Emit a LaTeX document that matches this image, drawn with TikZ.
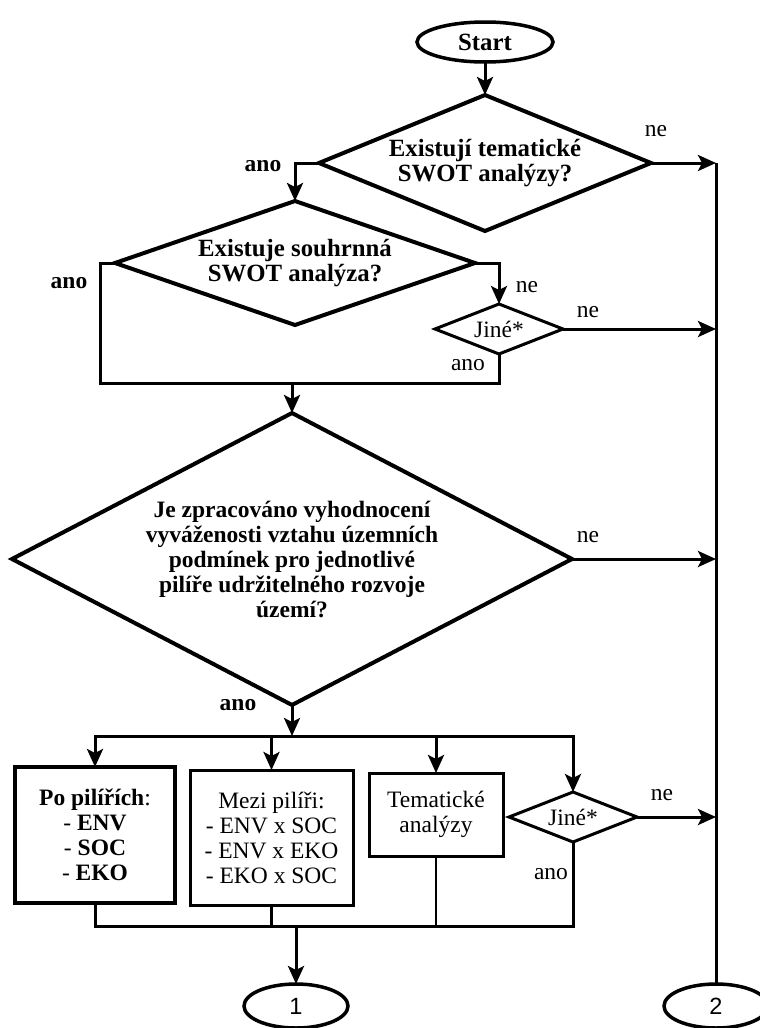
\documentclass[tikz,border=0pt]{standalone}
\usepackage{fontspec}
\setmainfont{Liberation Serif}
\newfontfamily\sansf{Liberation Sans}
\usetikzlibrary{shapes.geometric,arrows.meta}
\newcommand\dfont{\fontsize{23.5}{25}\selectfont}
\newcommand\qfont{\fontsize{24.8}{24.5}\selectfont}

\begin{document}
\begin{tikzpicture}[x=1pt,y=-1pt,
  every node/.style={font=\dfont, inner sep=0pt, outer sep=0pt},
  bold/.style={font=\dfont\bfseries},
  decision/.style={diamond, draw, line width=4pt, align=center, font=\qfont\bfseries},
  smalldec/.style={diamond, draw, line width=3pt, align=center,
    minimum width=128pt, minimum height=50pt, aspect=2.56},
  terminal/.style={ellipse, draw, line width=3.5pt},
  box/.style={rectangle, draw, line width=3pt, align=center},
  conn/.style={line width=3pt},
  stub/.style={line width=2.5pt},
  arr/.style={conn, -{Stealth[length=18pt,width=16pt,inset=4pt]}},
  ]
\useasboundingbox (0,0) rectangle (760,1028);

% start and questions
\node[terminal, minimum width=136pt, minimum height=40pt, font=\qfont\bfseries]
  (start) at (485,42) {Start};
\node[decision, minimum width=332pt, minimum height=136pt, aspect=2.44]
  (d1) at (485,163) {Existují tematické\\SWOT analýzy?};
\node[decision, minimum width=360pt, minimum height=124pt, aspect=2.9]
  (d2) at (295,263) {Existuje souhrnná\\SWOT analýza?};
\node[smalldec] (j1) at (499,329) {Jiné*};
\node[decision, minimum width=560pt, minimum height=292pt, aspect=1.92, font=\dfont\bfseries]
  (d3) at (292,559) {Je zpracováno vyhodnocení\\vyváženosti vztahu územních\\podmínek pro jednotlivé\\pilíře udržitelného rozvoje\\území?};

% kinds of evaluation
\node[box, line width=4pt, minimum width=160pt, minimum height=136pt]
  (b1) at (95,835) {\textbf{Po pilířích}:\\- \textbf{ENV}\\- \textbf{SOC}\\- \textbf{EKO}};
\node[box, minimum width=163pt, minimum height=135pt]
  (b2) at (271.5,837.5) {Mezi pilíři:\\- ENV x SOC\\- ENV x EKO\\- EKO x SOC};
\node[box, minimum width=134pt, minimum height=83pt]
  (b3) at (436,814.5) {Tematické\\analýzy};
\node[smalldec] (j2) at (573,817) {Jiné*};

% connectors to other pages
\node[terminal, minimum width=104pt, minimum height=44pt, font=\dfont\sansf]
  (e1) at (296,1006) {1};
\node[terminal, minimum width=104pt, minimum height=44pt, font=\dfont\sansf]
  (e2) at (716,1006) {2};

% helper points
\coordinate (loopL) at (100,383);
\coordinate (busT) at (95,736);
\coordinate (busB) at (95,926);

% flow
\draw[arr] (start.south) -- (d1.north);
\draw[arr] (d1.west) -| (d2.north);
\draw[arr] (d1.east) -- (d1.east -| e2.north);
\draw[conn] (d1.east -| e2.north) -- (e2.north);
\draw[arr] (d2.east) -| (j1.north);
\draw[arr] (j1.east) -- (j1.east -| e2.north);
\draw[conn] (d2.west) -| (loopL) -| (j1.south);
\draw[arr] (loopL -| d3.north) -- (d3.north);
\draw[arr] (d3.east) -- (d3.east -| e2.north);
\draw[arr] (d3.south) -- (d3.south |- busT);
\draw[arr] (d3.south |- busT) -| (b1.north);
\draw[arr] (d3.south |- busT) -| (j2.north);
\draw[arr] (b2.north |- busT) -- (b2.north);
\draw[arr] (b3.north |- busT) -- (b3.north);
\draw[arr] (j2.east) -- (j2.east -| e2.north);
\draw[conn] (b1.south) |- (j2.south |- busB) -- (j2.south);
\draw[stub] (b2.south) -- (b2.south |- busB);
\draw[stub] (b3.south) -- (b3.south |- busB);
\draw[arr] (e1.north |- busB) -- (e1.north);

% branch labels
\node[bold] (ano1) at (263,166) {ano};
\node (ne1) at (656,131) {ne};
\node[bold] (ano2) at (69,283) {ano};
\node (ne2) at (527,287) {ne};
\node (ne3) at (588,312) {ne};
\node (ano3) at (468,365) {ano};
\node (ne4) at (588,537) {ne};
\node[bold] (ano4) at (238,705) {ano};
\node (ne5) at (662,795) {ne};
\node (ano5) at (551,874) {ano};
\end{tikzpicture}
\end{document}
